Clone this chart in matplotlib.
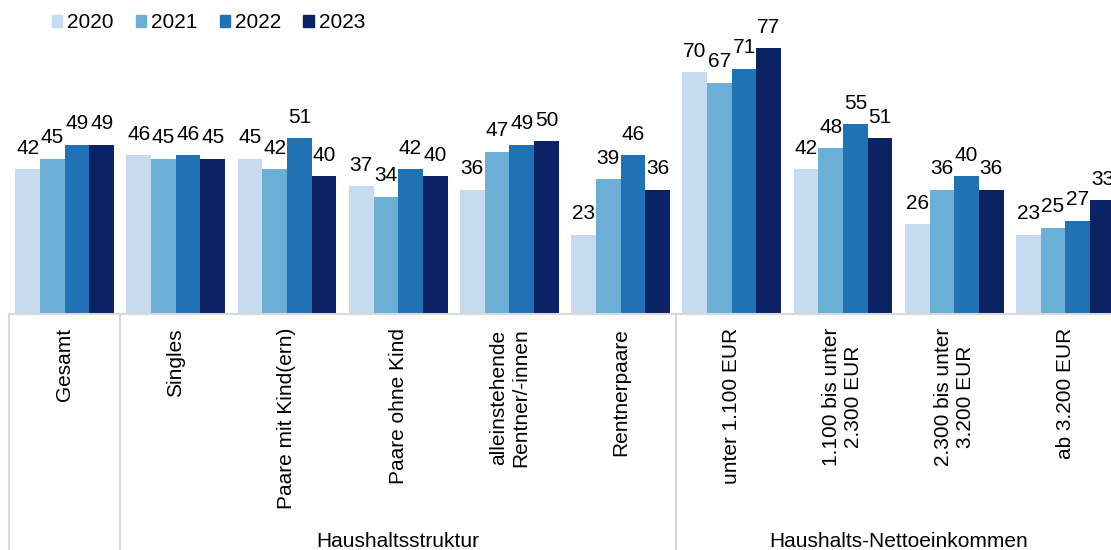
import numpy as np
import matplotlib.pyplot as plt
from matplotlib.lines import Line2D
from matplotlib.patches import Patch

plt.rcParams['font.family'] = ['Liberation Sans', 'DejaVu Sans']

# data
years = ['2020', '2021', '2022', '2023']
categories = ['Gesamt', 'Singles', 'Paare mit Kind(ern)', 'Paare ohne Kind',
              'alleinstehende\nRentner/-innen', 'Rentnerpaare', 'unter 1.100 EUR',
              '1.100 bis unter\n2.300 EUR', '2.300 bis unter\n3.200 EUR', 'ab 3.200 EUR']
v2020 = [42, 46, 45, 37, 36, 23, 70, 42, 26, 23]
v2021 = [45, 45, 42, 34, 47, 39, 67, 48, 36, 25]
v2022 = [49, 46, 51, 42, 49, 46, 71, 55, 40, 27]
v2023 = [49, 45, 40, 40, 50, 36, 77, 51, 36, 33]
groups = ['Haushaltsstruktur', 'Haushalts-Nettoeinkommen']
group_span = [(1, 5), (6, 9)]   # first/last category index of each group

series = [v2020, v2021, v2022, v2023]
cols = ['#c6dbef', '#6baed6', '#2171b5', '#0b2365']

W, H = 1111, 550
fig = plt.figure(figsize=(W / 100, H / 100), dpi=100)
# axes runs a bit past the right edge, like the original (last bar is cut off)
ax = fig.add_axes([9 / W, (H - 314) / H, 1112 / W, 314 / H])

x = np.arange(len(categories))
bw = 0.222
for k, vals in enumerate(series):
    pos = x + (k - 1.5) * bw
    ax.bar(pos, vals, width=bw, color=cols[k], linewidth=0)
    for p, v in zip(pos, vals):
        ax.annotate(str(v), (p, v), xytext=(0, 11), textcoords='offset points',
                    ha='center', va='baseline', fontsize=15, color='black')

ax.set_xlim(-0.5, len(categories) - 0.5)
ax.set_ylim(0, 314 / 3.455)
for s in ['top', 'right', 'left']:
    ax.spines[s].set_visible(False)
ax.spines['bottom'].set_color('#d9d9d9')
ax.spines['bottom'].set_linewidth(1.5)
ax.set_xticks([])
ax.set_yticks([])

# category labels, rotated
for i, c in enumerate(categories):
    ax.annotate(c, (i, 0), xycoords=('data', 'axes fraction'), xytext=(0, -10),
                textcoords='offset points', rotation=90, ha='center', va='top',
                multialignment='center', fontsize=15)

# separators between the category levels
trans = ax.get_xaxis_transform()
for xs in [-0.5, 0.5, 5.5]:
    ax.add_line(Line2D([xs, xs], [0, -0.76], transform=trans, color='#d9d9d9',
                       linewidth=1.5, clip_on=False))

for g, (a, b) in zip(groups, group_span):
    xc = (a - 0.5 + b + 0.5) / 2
    ax.annotate(g, (xc, 0), xycoords=('data', 'axes fraction'), xytext=(0, -164),
                textcoords='offset points', ha='center', va='center', fontsize=15)

handles = [Patch(color=c, label=y) for c, y in zip(cols, years)]
fig.legend(handles=handles, loc='upper left', bbox_to_anchor=(33 / W, 1.01), ncol=4,
           frameon=False, fontsize=15, handlelength=0.5, handleheight=0.5,
           handletextpad=0.25, columnspacing=1.05)

fig.savefig('out.png', dpi=100)
